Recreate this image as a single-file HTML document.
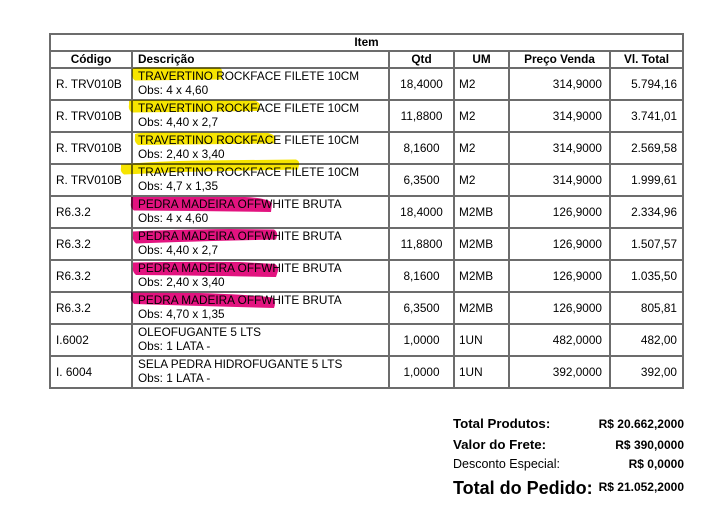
<!DOCTYPE html>
<html>
<head>
<meta charset="utf-8">
<style>
html,body{margin:0;padding:0;background:#fff;}
body{width:708px;height:513px;position:relative;overflow:hidden;font-family:"Liberation Sans",Arial,sans-serif;color:#000;}
.h{position:absolute;left:49px;width:635px;height:2px;background:#6c6c6c;}
.v{position:absolute;width:2px;background:#6c6c6c;}
.t{position:absolute;font-size:11.8px;line-height:14px;white-space:nowrap;}
.b{font-weight:bold;}
.c{text-align:center;}
.r{text-align:right;}
svg.hl{position:absolute;left:0;top:0;mix-blend-mode:multiply;}
</style>
</head>
<body>
<!-- horizontal lines -->
<div class="h" style="top:33px"></div>
<div class="h" style="top:50px"></div>
<div class="h" style="top:67px"></div>
<div class="h" style="top:99px"></div>
<div class="h" style="top:131px"></div>
<div class="h" style="top:163px"></div>
<div class="h" style="top:195px"></div>
<div class="h" style="top:227px"></div>
<div class="h" style="top:259px"></div>
<div class="h" style="top:291px"></div>
<div class="h" style="top:323px"></div>
<div class="h" style="top:355px"></div>
<div class="h" style="top:387px"></div>
<!-- vertical lines -->
<div class="v" style="left:49px;top:33px;height:356px"></div>
<div class="v" style="left:682px;top:33px;height:356px"></div>
<div class="v" style="left:131px;top:50px;height:339px"></div>
<div class="v" style="left:388px;top:50px;height:339px"></div>
<div class="v" style="left:453px;top:50px;height:339px"></div>
<div class="v" style="left:508px;top:50px;height:339px"></div>
<div class="v" style="left:609px;top:50px;height:339px"></div>

<!-- Item title -->
<div class="t b c" style="left:51px;width:631px;top:35px;">Item</div>
<!-- headers -->
<div class="t b c" style="left:51px;width:80px;top:52px;">Código</div>
<div class="t b" style="left:138px;top:52px;">Descrição</div>
<div class="t b c" style="left:390px;width:63px;top:52px;">Qtd</div>
<div class="t b c" style="left:455px;width:53px;top:52px;">UM</div>
<div class="t b c" style="left:510px;width:99px;top:52px;">Preço Venda</div>
<div class="t b c" style="left:611px;width:71px;top:52px;">Vl. Total</div>

<!-- rows -->
<!-- row 1 y=67 -->
<div class="t" style="left:56px;top:77px;">R. TRV010B</div>
<div class="t" style="left:138px;top:69px;">TRAVERTINO ROCKFACE FILETE 10CM<br>Obs: 4 x 4,60</div>
<div class="t c" style="left:390px;width:63px;top:77px;">18,4000</div>
<div class="t" style="left:459px;top:77px;">M2</div>
<div class="t r" style="left:510px;width:92px;top:77px;">314,9000</div>
<div class="t r" style="left:611px;width:66px;top:77px;">5.794,16</div>
<!-- row 2 y=99 -->
<div class="t" style="left:56px;top:109px;">R. TRV010B</div>
<div class="t" style="left:138px;top:101px;">TRAVERTINO ROCKFACE FILETE 10CM<br>Obs: 4,40 x 2,7</div>
<div class="t c" style="left:390px;width:63px;top:109px;">11,8800</div>
<div class="t" style="left:459px;top:109px;">M2</div>
<div class="t r" style="left:510px;width:92px;top:109px;">314,9000</div>
<div class="t r" style="left:611px;width:66px;top:109px;">3.741,01</div>
<!-- row 3 y=131 -->
<div class="t" style="left:56px;top:141px;">R. TRV010B</div>
<div class="t" style="left:138px;top:133px;">TRAVERTINO ROCKFACE FILETE 10CM<br>Obs: 2,40 x 3,40</div>
<div class="t c" style="left:390px;width:63px;top:141px;">8,1600</div>
<div class="t" style="left:459px;top:141px;">M2</div>
<div class="t r" style="left:510px;width:92px;top:141px;">314,9000</div>
<div class="t r" style="left:611px;width:66px;top:141px;">2.569,58</div>
<!-- row 4 y=163 -->
<div class="t" style="left:56px;top:173px;">R. TRV010B</div>
<div class="t" style="left:138px;top:165px;">TRAVERTINO ROCKFACE FILETE 10CM<br>Obs: 4,7 x 1,35</div>
<div class="t c" style="left:390px;width:63px;top:173px;">6,3500</div>
<div class="t" style="left:459px;top:173px;">M2</div>
<div class="t r" style="left:510px;width:92px;top:173px;">314,9000</div>
<div class="t r" style="left:611px;width:66px;top:173px;">1.999,61</div>
<!-- row 5 y=195 -->
<div class="t" style="left:56px;top:205px;">R6.3.2</div>
<div class="t" style="left:138px;top:197px;">PEDRA MADEIRA OFFWHITE BRUTA<br>Obs: 4 x 4,60</div>
<div class="t c" style="left:390px;width:63px;top:205px;">18,4000</div>
<div class="t" style="left:459px;top:205px;">M2MB</div>
<div class="t r" style="left:510px;width:92px;top:205px;">126,9000</div>
<div class="t r" style="left:611px;width:66px;top:205px;">2.334,96</div>
<!-- row 6 y=227 -->
<div class="t" style="left:56px;top:237px;">R6.3.2</div>
<div class="t" style="left:138px;top:229px;">PEDRA MADEIRA OFFWHITE BRUTA<br>Obs: 4,40 x 2,7</div>
<div class="t c" style="left:390px;width:63px;top:237px;">11,8800</div>
<div class="t" style="left:459px;top:237px;">M2MB</div>
<div class="t r" style="left:510px;width:92px;top:237px;">126,9000</div>
<div class="t r" style="left:611px;width:66px;top:237px;">1.507,57</div>
<!-- row 7 y=259 -->
<div class="t" style="left:56px;top:269px;">R6.3.2</div>
<div class="t" style="left:138px;top:261px;">PEDRA MADEIRA OFFWHITE BRUTA<br>Obs: 2,40 x 3,40</div>
<div class="t c" style="left:390px;width:63px;top:269px;">8,1600</div>
<div class="t" style="left:459px;top:269px;">M2MB</div>
<div class="t r" style="left:510px;width:92px;top:269px;">126,9000</div>
<div class="t r" style="left:611px;width:66px;top:269px;">1.035,50</div>
<!-- row 8 y=291 -->
<div class="t" style="left:56px;top:301px;">R6.3.2</div>
<div class="t" style="left:138px;top:293px;">PEDRA MADEIRA OFFWHITE BRUTA<br>Obs: 4,70 x 1,35</div>
<div class="t c" style="left:390px;width:63px;top:301px;">6,3500</div>
<div class="t" style="left:459px;top:301px;">M2MB</div>
<div class="t r" style="left:510px;width:92px;top:301px;">126,9000</div>
<div class="t r" style="left:611px;width:66px;top:301px;">805,81</div>
<!-- row 9 y=323 -->
<div class="t" style="left:56px;top:333px;">I.6002</div>
<div class="t" style="left:138px;top:325px;">OLEOFUGANTE 5 LTS<br>Obs: 1 LATA -</div>
<div class="t c" style="left:390px;width:63px;top:333px;">1,0000</div>
<div class="t" style="left:459px;top:333px;">1UN</div>
<div class="t r" style="left:510px;width:92px;top:333px;">482,0000</div>
<div class="t r" style="left:611px;width:66px;top:333px;">482,00</div>
<!-- row 10 y=355 -->
<div class="t" style="left:56px;top:365px;">I. 6004</div>
<div class="t" style="left:138px;top:357px;">SELA PEDRA HIDROFUGANTE 5 LTS<br>Obs: 1 LATA -</div>
<div class="t c" style="left:390px;width:63px;top:365px;">1,0000</div>
<div class="t" style="left:459px;top:365px;">1UN</div>
<div class="t r" style="left:510px;width:92px;top:365px;">392,0000</div>
<div class="t r" style="left:611px;width:66px;top:365px;">392,00</div>

<!-- highlights -->
<svg class="hl" width="708" height="513" viewBox="0 0 708 513">
  <g fill="#f6e400">
    <path d="M132,69 Q134,67 150,67.5 L220,67.5 Q223,70 222,74 L222,79.5 L135,80.5 Q131,78 132,72 Z"/>
    <path d="M129,101 Q131,99.5 150,100 L255,100.5 Q261,103 260,107 L259,111 L132,112.5 Q128,110 129,105 Z"/>
    <path d="M135,134 Q140,132 170,132.5 L268,133 Q276,135 275,139 L274,143.5 L138,145 Q134,142 135,138 Z"/>
    <path d="M121,164.5 Q150,161.5 200,160.5 L296,159.5 Q300,161 299,165 L298,169.5 L180,172 L124,174.5 Q120,172 121,168 Z"/>
  </g>
  <g fill="#e2137f">
    <path d="M131,197 L245,197 Q268,198 272,203 L271,212 Q200,211 134,210.5 Q130,208 131,203 Z"/>
    <path d="M133,231.5 Q170,229.5 230,229 L274,229.5 Q278,232 277,236 L276,239.5 Q200,241 136,243.5 Q132,240 133,236 Z"/>
    <path d="M133,262.5 Q180,261.5 240,262 L275,264 Q279,267 278,271 L276,277 Q200,275.5 136,275 Q132,272 133,267 Z"/>
    <path d="M131,292.5 L200,293 Q260,295 274,298 Q276,303 274,308 Q200,306 134,304 Q130,300 131,296 Z"/>
  </g>
  <rect x="131" y="291.5" width="1.5" height="9" fill="#7a1a7a"/>
</svg>

<!-- summary -->
<div class="t b" style="left:453px;top:416px;font-size:13.3px;line-height:16px;">Total Produtos:</div>
<div class="t b r" style="right:24px;top:416px;font-size:12px;line-height:16px;">R$ 20.662,2000</div>
<div class="t b" style="left:453px;top:437px;font-size:13.3px;line-height:16px;">Valor do Frete:</div>
<div class="t b r" style="right:24px;top:437px;font-size:12px;line-height:16px;">R$ 390,0000</div>
<div class="t" style="left:453px;top:456px;font-size:12.5px;line-height:16px;">Desconto Especial:</div>
<div class="t b r" style="right:24px;top:456px;font-size:12px;line-height:16px;">R$ 0,0000</div>
<div class="t b" style="left:453px;top:477px;font-size:18px;line-height:22px;">Total do Pedido:</div>
<div class="t b r" style="right:24px;top:479px;font-size:12px;line-height:16px;">R$ 21.052,2000</div>
</body>
</html>
